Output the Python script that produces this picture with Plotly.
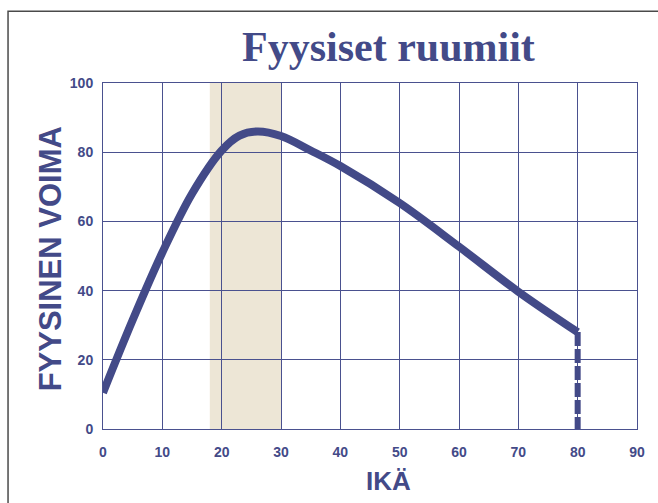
import plotly.graph_objects as go

# Data
age = [0, 5, 10, 15, 20, 23, 26, 30, 35, 40, 50, 60, 70, 80]
strength = [10.5, 31.5, 51, 68, 80.5, 84.8, 86, 84.7, 80.5, 76, 65.3, 52.7, 39.7, 28]

end_age = [80, 80]
end_strength = [28, 0]

band_start, band_end = 18, 30

x_ticks = [0, 10, 20, 30, 40, 50, 60, 70, 80, 90]
y_ticks = [0, 20, 40, 60, 80, 100]

title_text = "Fyysiset ruumiit"
x_title = "IKÄ"
y_title = "FYYSINEN VOIMA"

NAVY = "#434a88"
GRID = "#4a518f"
BEIGE = "#ede6d6"

W, H = 658, 503
L, R, T, B = 102.5, 21.3, 83.3, 74
pw = W - L - R
ph = H - T - B


def px_to_paper_x(px):
    return (px - L) / pw


def py_to_paper_y(py):
    return (H - B - py) / ph


fig = go.Figure()

fig.add_trace(go.Scatter(
    x=age, y=strength, mode="lines",
    line=dict(color=NAVY, width=8, shape="spline", smoothing=1.0),
    hoverinfo="skip", showlegend=False,
))
fig.add_trace(go.Scatter(
    x=end_age, y=end_strength, mode="lines",
    line=dict(color=NAVY, width=6, dash="14px,3px"),
    hoverinfo="skip", showlegend=False,
))

fig.add_shape(type="rect", xref="x", yref="y",
              x0=band_start, x1=band_end, y0=0, y1=100,
              fillcolor=BEIGE, line=dict(width=0), layer="below")

# outer frame (left and top edges, running off the canvas)
fx = px_to_paper_x(7.5)
fy = py_to_paper_y(11.5)
fig.add_shape(type="path", xref="paper", yref="paper",
              path=f"M {fx} {py_to_paper_y(520)} L {fx} {fy} L {px_to_paper_x(700)} {fy}",
              line=dict(color="#4a4a4a", width=1.5))

tickfont = dict(family="Liberation Sans, Arial, sans-serif", size=14, color=NAVY, weight="bold")

fig.update_xaxes(range=[0, 90], tickvals=x_ticks, showgrid=True, gridcolor=GRID, gridwidth=1,
                 showline=True, linecolor=GRID, linewidth=1, mirror=True,
                 zeroline=False, ticks="", tickfont=tickfont, ticklabelstandoff=10, fixedrange=True)
fig.update_yaxes(range=[0, 100], tickvals=y_ticks, showgrid=True, gridcolor=GRID, gridwidth=1,
                 showline=True, linecolor=GRID, linewidth=1, mirror=True,
                 zeroline=False, ticks="", tickfont=tickfont, ticklabelstandoff=6, fixedrange=True)

fig.add_annotation(text=title_text, xref="paper", yref="paper",
                   x=px_to_paper_x(388), y=py_to_paper_y(47), xanchor="center", yanchor="middle",
                   showarrow=False,
                   font=dict(family="Liberation Serif, Times New Roman, serif", size=42, color=NAVY, weight="bold"))
fig.add_annotation(text=x_title, xref="paper", yref="paper",
                   x=px_to_paper_x(388), y=py_to_paper_y(481), xanchor="center", yanchor="middle",
                   showarrow=False,
                   font=dict(family="Liberation Sans, Arial, sans-serif", size=26, color=NAVY, weight="bold"))
fig.add_annotation(text=y_title, xref="paper", yref="paper",
                   x=px_to_paper_x(50), y=py_to_paper_y(259), xanchor="center", yanchor="middle",
                   textangle=-90, showarrow=False,
                   font=dict(family="Liberation Sans, Arial, sans-serif", size=31, color=NAVY, weight="bold"))

fig.update_layout(width=W, height=H, margin=dict(l=L, r=R, t=T, b=B, pad=0),
                  paper_bgcolor="white", plot_bgcolor="white", showlegend=False)

fig.write_html("out.html", config={"displayModeBar": False},
               post_script="document.body.style.margin='0px';document.body.style.overflow='hidden';")
